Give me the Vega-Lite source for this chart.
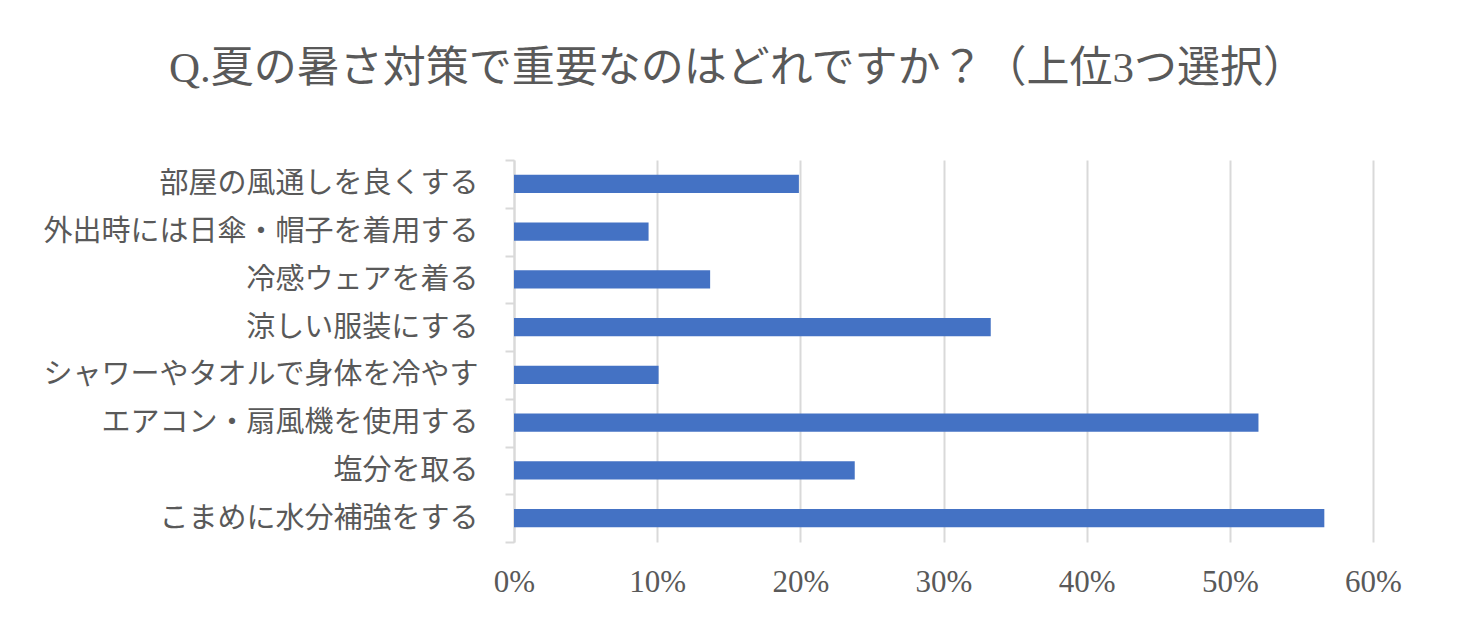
{
  "$schema": "https://vega.github.io/schema/vega-lite/v6.json",
  "width": 859,
  "height": 382,
  "autosize": {"type": "none"},
  "padding": {"left": 514, "top": 160, "right": 94, "bottom": 88},
  "background": "white",
  "title": {
    "text": "Q.夏の暑さ対策で重要なのはどれですか？（上位3つ選択）",
    "font": "Liberation Serif, Noto Sans CJK JP",
    "fontSize": 43,
    "fontWeight": "normal",
    "color": "#595959",
    "anchor": "middle",
    "dx": -206,
    "offset": 55
  },
  "data": {
    "values": [
      {"item": "部屋の風通しを良くする", "share": 0.199},
      {"item": "外出時には日傘・帽子を着用する", "share": 0.094},
      {"item": "冷感ウェアを着る", "share": 0.137},
      {"item": "涼しい服装にする", "share": 0.333},
      {"item": "シャワーやタオルで身体を冷やす", "share": 0.101},
      {"item": "エアコン・扇風機を使用する", "share": 0.52},
      {"item": "塩分を取る", "share": 0.238},
      {"item": "こまめに水分補強をする", "share": 0.566}
    ]
  },
  "mark": {"type": "bar", "color": "#4472c4", "height": {"band": 0.38}},
  "encoding": {
    "y": {
      "field": "item",
      "type": "nominal",
      "sort": null,
      "scale": {"paddingInner": 0, "paddingOuter": 0},
      "axis": {
        "title": null,
        "tickBand": "extent",
        "domainColor": "#d9d9d9",
        "domainWidth": 2,
        "tickColor": "#d9d9d9",
        "tickWidth": 2,
        "tickSize": 9,
        "labelFont": "Noto Sans CJK JP",
        "labelFontSize": 29,
        "labelColor": "#595959",
        "labelPadding": 27,
        "labelLimit": 600
      }
    },
    "x": {
      "field": "share",
      "type": "quantitative",
      "scale": {"domain": [0, 0.6]},
      "axis": {
        "title": null,
        "format": ".0%",
        "values": [0, 0.1, 0.2, 0.3, 0.4, 0.5, 0.6],
        "domain": false,
        "ticks": false,
        "grid": true,
        "gridColor": "#d9d9d9",
        "gridWidth": 2,
        "labelFlush": false,
        "labelFont": "Liberation Serif",
        "labelFontSize": 31,
        "labelColor": "#595959",
        "labelPadding": 25
      }
    }
  },
  "config": {"view": {"stroke": null}}
}
